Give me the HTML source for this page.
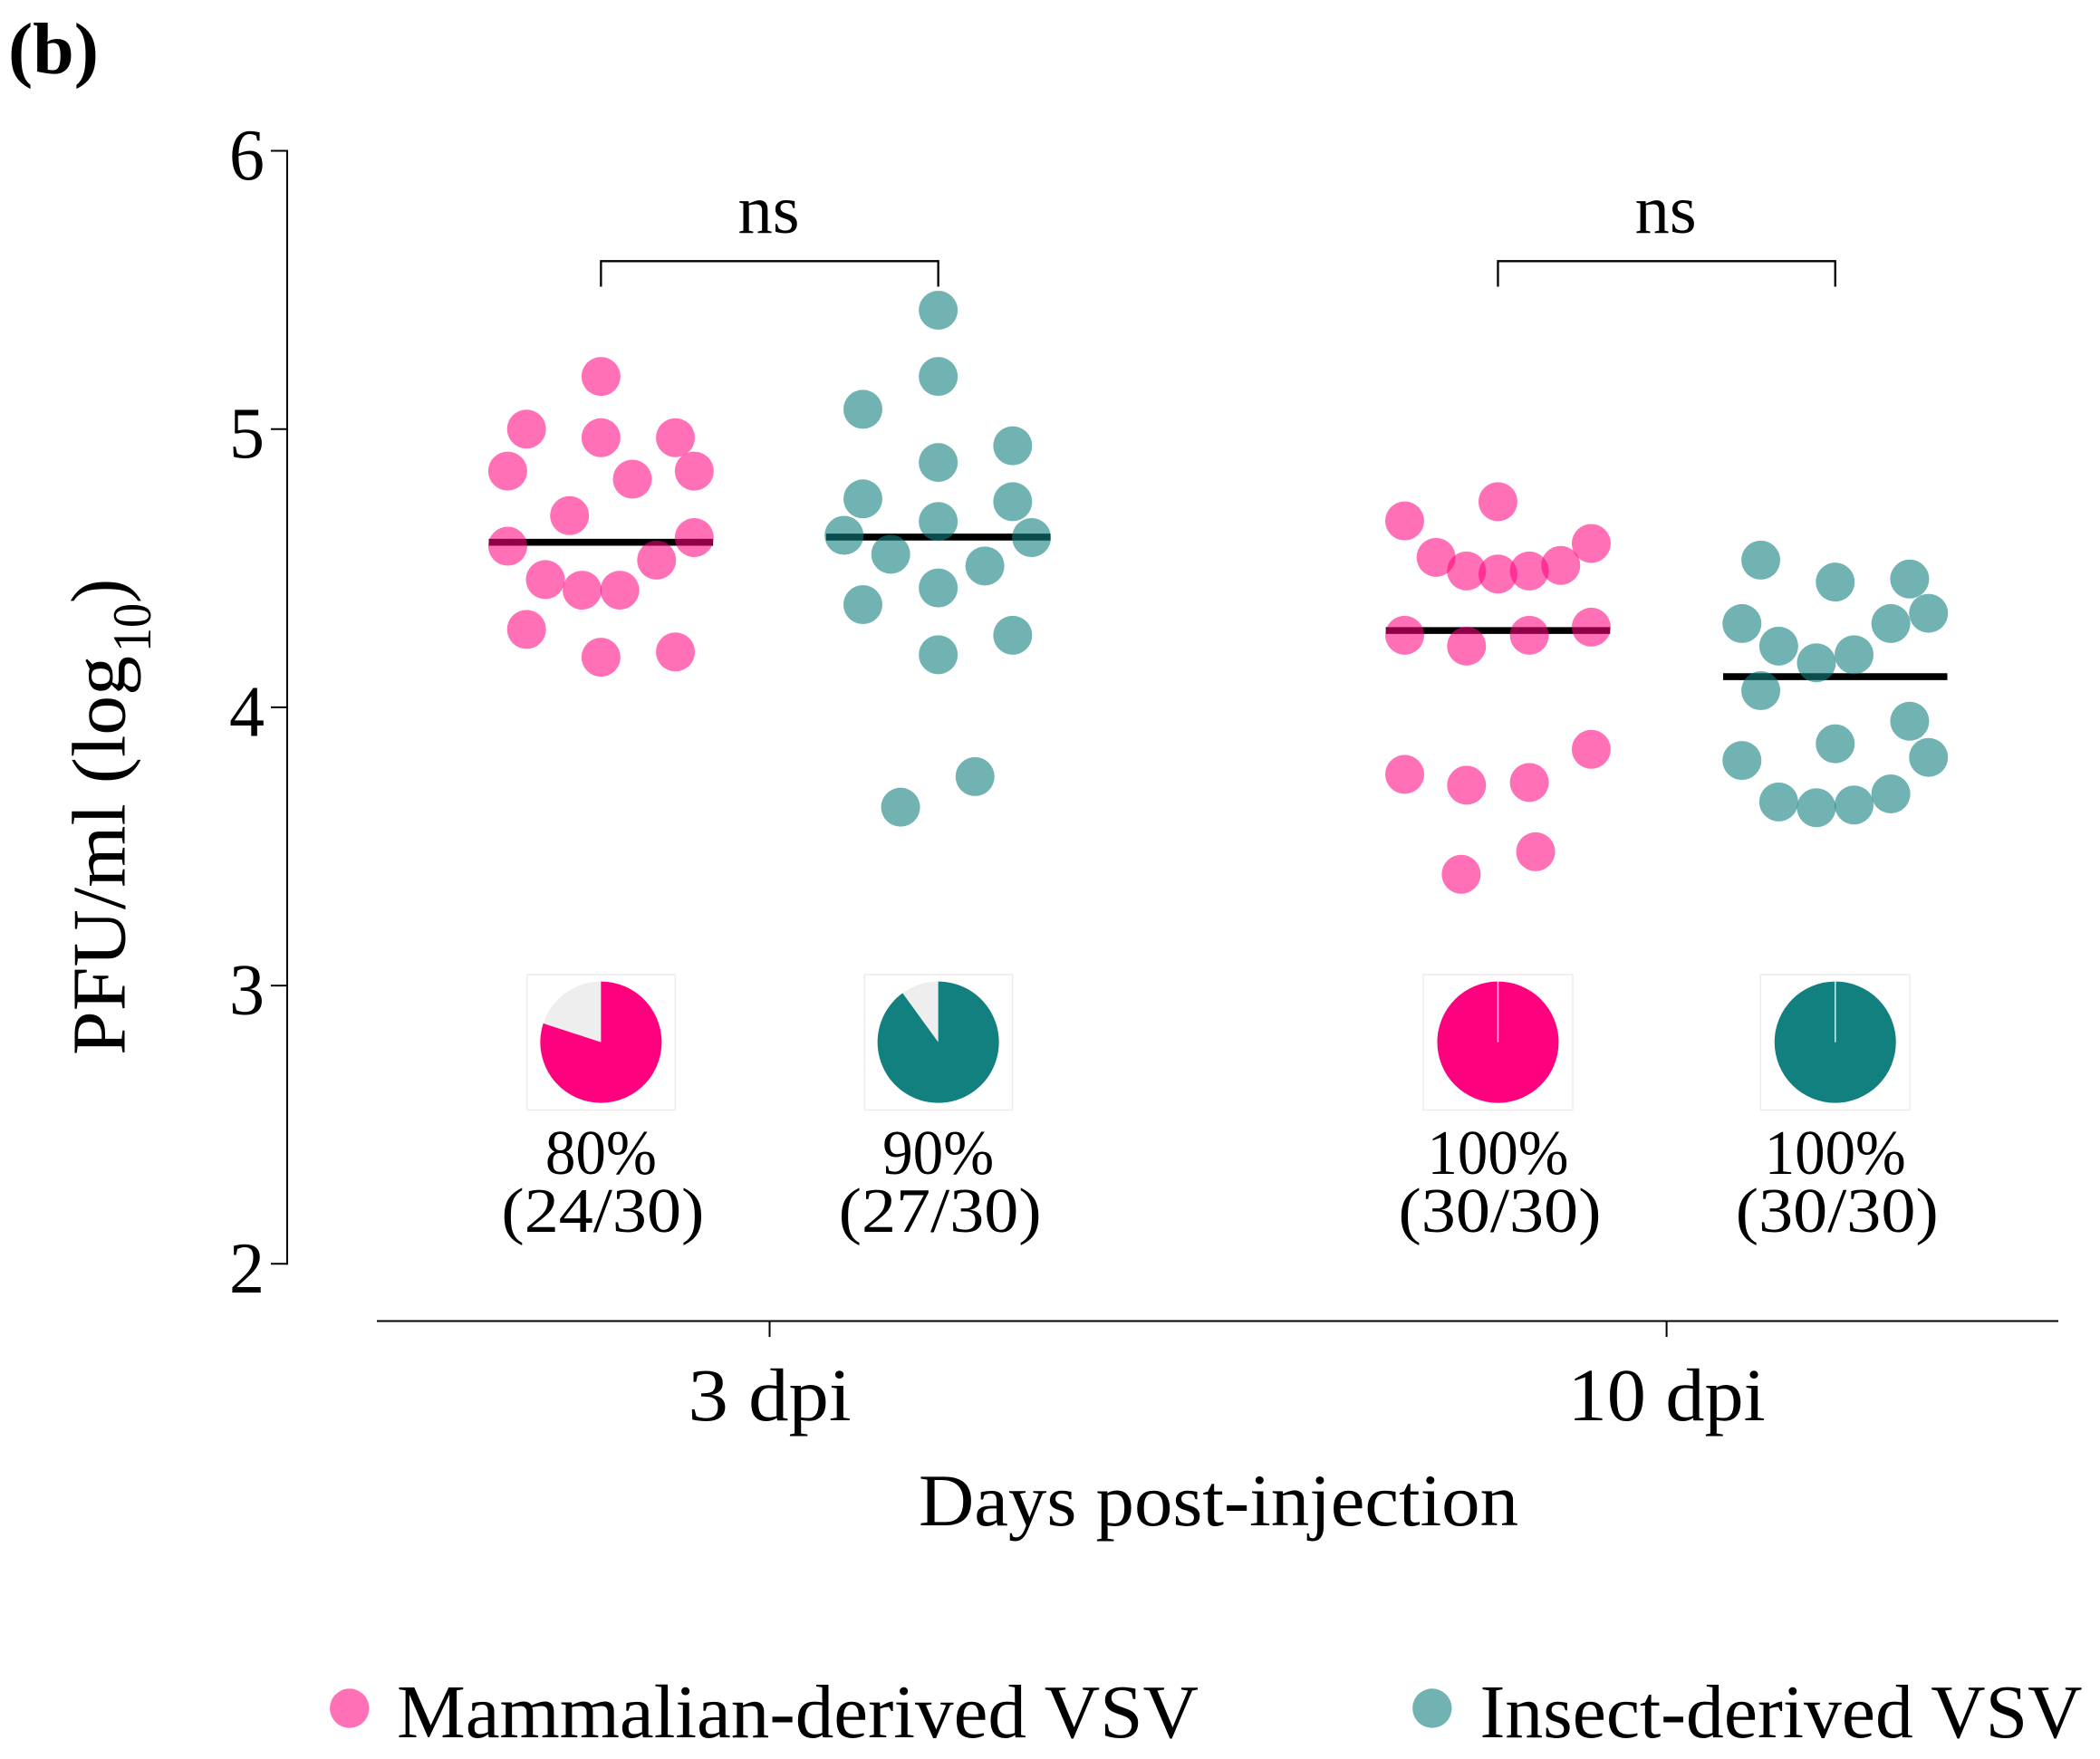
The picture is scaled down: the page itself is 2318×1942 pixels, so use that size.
<!DOCTYPE html>
<html lang="en">
<head>
<meta charset="utf-8">
<title>PFU/ml by days post-injection</title>
<style>
html,body{margin:0;padding:0;background:#fff;}
svg{display:block;}
text{font-family:"Liberation Serif",serif;fill:#000;}
</style>
</head>
<body>
<svg id="chart" xmlns="http://www.w3.org/2000/svg" width="2318" height="1942" viewBox="0 0 2318 1942">
  <rect x="0" y="0" width="2318" height="1942" fill="#fff"/>
  <text x="9" y="81" font-size="80" font-weight="bold" textLength="100" lengthAdjust="spacingAndGlyphs">(b)</text>
  <g transform="translate(137.5,1165) rotate(-90)">
    <text x="0" y="0" font-size="84" textLength="441" lengthAdjust="spacingAndGlyphs">PFU/ml (log</text>
    <text x="445" y="28.5" font-size="60" textLength="54" lengthAdjust="spacingAndGlyphs">10</text>
    <text x="499" y="0" font-size="86" textLength="27" lengthAdjust="spacingAndGlyphs">)</text>
  </g>
  <text x="1014" y="1684" font-size="82" textLength="662" lengthAdjust="spacingAndGlyphs">Days post-injection</text>
  <g id="plot"></g>
  <g>
    <circle cx="385.8" cy="1886" r="21.7" fill="#ff007f" fill-opacity="0.56"/>
    <text x="438" y="1918" font-size="84" textLength="885" lengthAdjust="spacingAndGlyphs">Mammalian-derived VSV</text>
    <circle cx="1580.8" cy="1886" r="21.7" fill="#12807f" fill-opacity="0.6"/>
    <text x="1633.5" y="1918" font-size="84" textLength="665" lengthAdjust="spacingAndGlyphs">Insect-derived VSV</text>
  </g>
</svg>
<script>
// ---- chart data ----
var yTickValues = [2, 3, 4, 5, 6];
var timeLabels = ["3 dpi", "10 dpi"];
var groupNames = ["3dpi-mammalian", "3dpi-insect", "10dpi-mammalian", "10dpi-insect"];
var groupTime = [0, 0, 1, 1];
var groupSide = [-1, 1, -1, 1];

var values3Mammalian = [5.189,5.0,4.969,4.969,4.849,4.849,4.82,4.689,4.579,4.61,4.529,4.459,4.421,4.421,4.28,4.18,4.199];
var jitter3Mammalian = [0,-.083,0,.083,-.104,.104,.035,-.035,-.104,.104,.062,-.062,-.021,.021,-.083,0,.083];

var values3Insect = [5.427,5.189,5.071,4.94,4.88,4.749,4.739,4.668,4.618,4.61,4.55,4.508,4.429,4.369,4.259,4.189,3.751,3.641];
var jitter3Insect = [0,0,-.084,.083,0,-.084,.083,0,-.105,.104,-.053,.052,0,-.084,.083,0,.041,-.042];

var values10Mammalian = [4.739,4.67,4.589,4.539,4.49,4.479,4.49,4.51,4.259,4.288,4.22,4.259,3.849,3.759,3.72,3.73,3.481,3.4];
var jitter10Mammalian = [0,-.104,.104,-.069,-.035,0,.035,.07,-.104,.104,-.035,.035,.104,-.104,-.035,.035,.042,-.041];

var values10Insect = [4.529,4.45,4.461,4.338,4.301,4.301,4.22,4.189,4.16,4.06,3.95,3.869,3.82,3.809,3.689,3.66,3.649,3.639];
var jitter10Insect = [-.083,0,.083,.104,-.104,.062,-.063,.021,-.021,-.083,.083,0,.104,-.104,.062,-.063,.021,-.021];

var medians = [4.593, 4.612, 4.276, 4.11];
var positivePercent = [80, 90, 100, 100];
var positiveCounts = ["(24/30)", "(27/30)", "(30/30)", "(30/30)"];
var significance = ["ns", "ns"];

var allValues = [values3Mammalian, values3Insect, values10Mammalian, values10Insect];
var allJitter = [jitter3Mammalian, jitter3Insect, jitter10Mammalian, jitter10Insect];

// ---- axis functions ----
function yScale(v) { return 166.5 + (6 - v) * 307.2; }
function xScale(p) { return 849.5 + p * 990.1; }
var DODGE = 0.188;
function groupPos(i) { return groupTime[i] + groupSide[i] * DODGE; }

var NS = "http://www.w3.org/2000/svg";
var plot = document.getElementById("plot");
function make(tag, attrs) {
  var el = document.createElementNS(NS, tag);
  for (var k in attrs) { el.setAttribute(k, attrs[k]); }
  plot.appendChild(el);
  return el;
}
function line(x1, y1, x2, y2, w) {
  return make("line", {x1: x1, y1: y1, x2: x2, y2: y2, stroke: "#000", "stroke-width": w});
}
function label(str, x, y, size, width, anchor) {
  var attrs = {x: x, y: y, "font-size": size, "text-anchor": anchor || "middle"};
  if (width) { attrs.textLength = width; attrs.lengthAdjust = "spacingAndGlyphs"; }
  var t = make("text", attrs);
  t.textContent = str;
  return t;
}

// ---- y axis ----
var yAxis = line(317, yScale(6) - 1, 317, yScale(2) + 1, 2);


yTickValues.forEach(function (v) {
  var tick = line(299, yScale(v), 317, yScale(v), 2);
  
  
  var tl = label(String(v), 253, yScale(v) + 31.5, 81, 39, "start");
  
  
});

// ---- x axis ----
var xAxis = line(416, 1458.5, 2272, 1458.5, 2);


var xLabelWidths = [180, 218];
timeLabels.forEach(function (name, i) {
  var tick = line(xScale(i), 1458.5, xScale(i), 1476, 2);
  
  
  var tl = label(name, xScale(i), 1568, 83, xLabelWidths[i]);
  
  
});

// ---- significance brackets ----
significance.forEach(function (s, i) {
  var a = xScale(i - DODGE), b = xScale(i + DODGE);
  var br = make("path", {d: "M" + a + " 316.5V288.3H" + b + "V316.5", fill: "none", stroke: "#000", "stroke-width": 2.3});
  
  
  var t = label(s, xScale(i) - 1, 257, 76, 68);
  
  
});

// ---- medians (drawn beneath points) and points ----
var seriesColors = ["#ff007f", "#12807f", "#ff007f", "#12807f"];
var seriesAlpha = [0.56, 0.6, 0.56, 0.6];
allValues.forEach(function (vals, g) {
  var c = groupPos(g);
  var med = line(xScale(c - 0.125), yScale(medians[g]), xScale(c + 0.125), yScale(medians[g]), 7.6);
  
  
  vals.forEach(function (v, i) {
    var dot = make("circle", {
      cx: xScale(c + allJitter[g][i]), cy: yScale(v), r: 21.5,
      fill: seriesColors[g], "fill-opacity": seriesAlpha[g]
    });
    
    
  });
});

// ---- pies and percent labels ----
var pieCy = 1150.6, pieR = 67;
var pctWidths = [123, 123, 156, 156];
positivePercent.forEach(function (pct, g) {
  var cx = xScale(groupPos(g));
  var box = make("rect", {x: cx - (pct < 100 ? 81.5 : 82.5), y: 1076, width: pct < 100 ? 163.5 : 165, height: 149.5, fill: "#fff", stroke: "#ebebeb", "stroke-width": 1.4});
  
  
  var bg = make("circle", {cx: cx, cy: pieCy, r: pieR, fill: "#eeeeee"});
  
  
  var pie;
  if (pct >= 100) {
    pie = make("circle", {cx: cx, cy: pieCy, r: pieR, fill: seriesColors[g]});
  } else {
    var ang = pct / 100 * 2 * Math.PI;
    var ex = cx + pieR * Math.sin(ang), ey = pieCy - pieR * Math.cos(ang);
    var big = pct > 50 ? 1 : 0;
    pie = make("path", {d: "M" + cx + " " + pieCy + "V" + (pieCy - pieR) + "A" + pieR + " " + pieR + " 0 " + big + " 1 " + ex + " " + ey + "Z", fill: seriesColors[g]});
  }
  
  
  if (pct >= 100) {
    var seam = make("line", {x1: cx, y1: pieCy - pieR, x2: cx, y2: pieCy, stroke: "#fff", "stroke-width": 1.4});
    
    
  }
  var p = label(pct + "%", cx, 1296, 70, pctWidths[g]);
  
  
  var n = label(positiveCounts[g], cx + 2, 1360, 70, 224);
  
  
});
</script>
</body>
</html>
